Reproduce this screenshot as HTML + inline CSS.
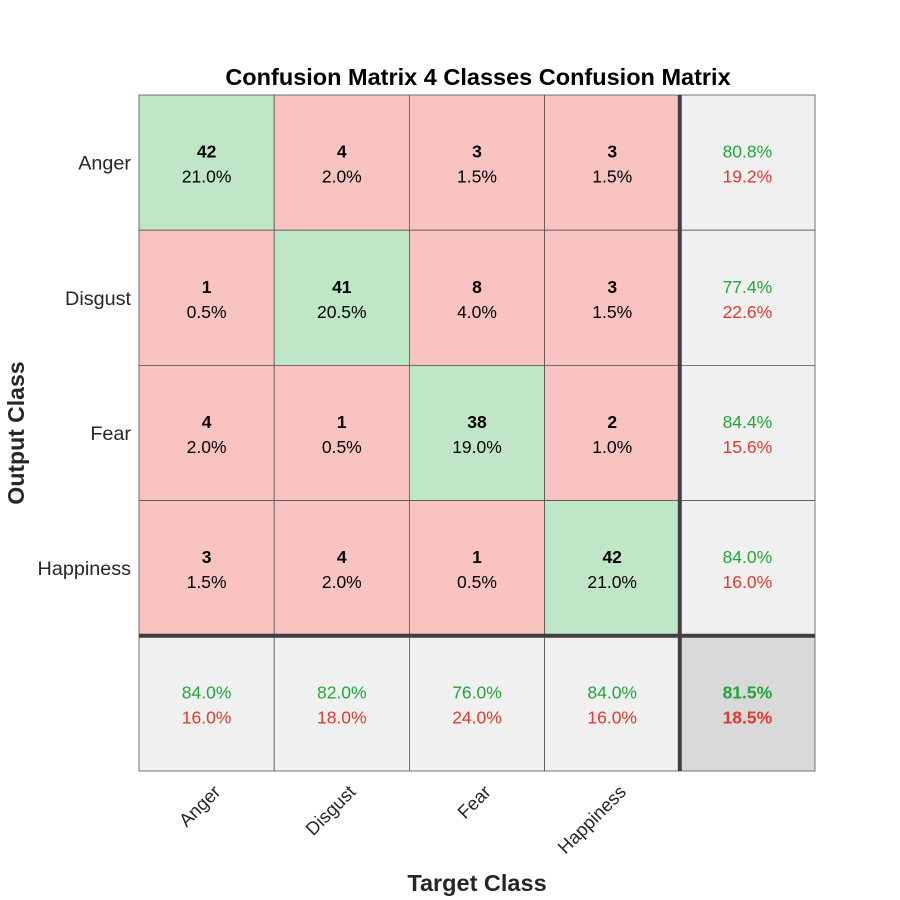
<!DOCTYPE html>
<html><head><meta charset="utf-8"><style>
body{margin:0;background:#fff}
svg{display:block;font-family:"Liberation Sans",Arial,sans-serif}
</style></head><body>
<svg id="c" width="900" height="900">
<rect width="900" height="900" fill="#fff"/>
<text x="478" y="85" text-anchor="middle" font-size="23.5" font-weight="bold" fill="#000">Confusion Matrix 4 Classes Confusion Matrix</text>
<text x="477" y="891" text-anchor="middle" font-size="23.5" font-weight="bold" fill="#262626">Target Class</text>
<text transform="translate(24,433) rotate(-90)" text-anchor="middle" font-size="23" font-weight="bold" fill="#262626">Output Class</text>
<g id="cells"></g>
</svg>
<script>
const classes = ["Anger","Disgust","Fear","Happiness"];
const counts = [
 [42,4,3,3],
 [1,41,8,3],
 [4,1,38,2],
 [3,4,1,42]
];
const rowAcc = [80.8,77.4,84.4,84.0];
const colAcc = [84.0,82.0,76.0,84.0];
const overallAcc = 81.5;

const svg = document.getElementById('c');
const g = document.getElementById('cells');
const NS = 'http://www.w3.org/2000/svg';
const x0 = 139, y0 = 95, cw = 135.2;
const xPos = i => x0 + i*cw;
const yPos = i => y0 + i*cw;
const total = counts.flat().reduce((a,b)=>a+b,0);
function mk(tag, attrs){const e=document.createElementNS(NS,tag);for(const k in attrs)e.setAttribute(k,attrs[k]);return e;}
function txt(x,y,s,fill,bold,anchor,fs){const t=mk('text',{x:x,y:y,'font-size':fs||17.5,fill:fill,'text-anchor':anchor||'middle'});if(bold)t.setAttribute('font-weight','bold');t.textContent=s;return t;}
const GREEN='#1fa83a', RED='#e2392e';
const n = classes.length;
for(let r=0;r<=n;r++){for(let c=0;c<=n;c++){
  let fill;
  if(r<n&&c<n) fill = r===c?'#bfe6c6':'#f8c3c0';
  else if(r===n&&c===n) fill='#d9d9d9'; else fill='#f0f0f0';
  const rect = mk('rect',{x:xPos(c),y:yPos(r),width:cw,height:cw,fill:fill,stroke:'#555','stroke-width':0.8});
  
  
  g.appendChild(rect);
  const cx = xPos(c)+cw/2, cy = yPos(r)+cw/2;
  let a,b;
  if(r<n&&c<n){
    a=txt(cx,cy-5,String(counts[r][c]),'#000',true);
    b=txt(cx,cy+20,(counts[r][c]/total*100).toFixed(1)+'%','#000',false);
  } else {
    const v = r===n&&c===n?overallAcc:(r===n?colAcc[c]:rowAcc[r]);
    const bold = r===n&&c===n;
    a=txt(cx,cy-5,v.toFixed(1)+'%',GREEN,bold);
    b=txt(cx,cy+20,(100-v).toFixed(1)+'%',RED,bold);
  }
  
  
  
  
  g.appendChild(a); g.appendChild(b);
}}
const l1 = mk('line',{x1:xPos(n),x2:xPos(n),y1:y0,y2:yPos(n+1),stroke:'#404040','stroke-width':4});


g.appendChild(l1);
const l2 = mk('line',{x1:x0,x2:xPos(n+1),y1:yPos(n),y2:yPos(n),stroke:'#404040','stroke-width':4});


g.appendChild(l2);
classes.forEach((name,i)=>{
  const t = txt(131, yPos(i)+cw/2+7, name, '#262626', false, 'end', 19.8);
  
  
  g.appendChild(t);
  const cx = xPos(i)+cw/2+15;
  const u = txt(0,0,name,'#262626',false,'end',18.5);
  u.setAttribute('transform','translate('+cx+',793) rotate(-45)');
  
  
  g.appendChild(u);
});
</script>
</body></html>
